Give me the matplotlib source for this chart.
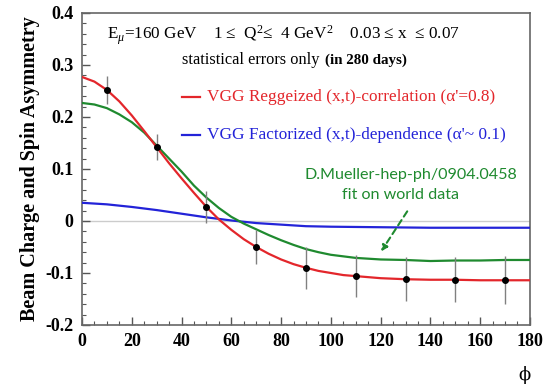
import matplotlib
matplotlib.use("Agg")
import matplotlib.pyplot as plt
from matplotlib.ticker import MultipleLocator, FixedLocator, FixedFormatter

# measured points (statistical errors only)
phi_pts = [10, 30, 50, 70, 90, 110, 130, 150, 170]
asym_pts = [0.252, 0.142, 0.027, -0.050, -0.090, -0.106, -0.112, -0.113, -0.113]
asym_err = [0.027, 0.025, 0.030, 0.033, 0.040, 0.041, 0.042, 0.043, 0.046]

# VGG Reggeized (x,t)-correlation
phi_red = [0, 5, 10, 15, 20, 25, 30, 35, 40, 45, 50, 55, 60, 65, 70, 75, 80,
           85, 90, 95, 100, 105, 110, 120, 130, 140, 150, 160, 170, 180]
asym_red = [0.277, 0.268, 0.252, 0.230, 0.203, 0.173, 0.142, 0.111, 0.082,
            0.054, 0.027, 0.003, -0.017, -0.035, -0.050, -0.063, -0.074,
            -0.083, -0.090, -0.096, -0.100, -0.104, -0.106, -0.110, -0.112,
            -0.113, -0.113, -0.114, -0.114, -0.114]

# D.Mueller fit on world data
phi_green = [0, 5, 10, 15, 20, 25, 30, 35, 40, 45, 50, 55, 60, 65, 70, 75, 80,
             85, 90, 95, 100, 110, 120, 130, 140, 150, 160, 170, 180]
asym_green = [0.227, 0.224, 0.217, 0.205, 0.190, 0.170, 0.145, 0.120, 0.095,
              0.068, 0.045, 0.025, 0.008, -0.005, -0.016, -0.027, -0.037,
              -0.046, -0.054, -0.060, -0.065, -0.071, -0.074, -0.075, -0.077,
              -0.076, -0.076, -0.075, -0.075]

# VGG Factorized (x,t)-dependence
phi_blue = [0, 10, 20, 30, 40, 50, 60, 70, 80, 90, 100, 120, 140, 160, 180]
asym_blue = [0.035, 0.032, 0.027, 0.021, 0.014, 0.007, 0.001, -0.004, -0.007,
             -0.010, -0.011, -0.012, -0.013, -0.013, -0.013]

x_ticks = [0, 20, 40, 60, 80, 100, 120, 140, 160, 180]
y_ticks = [-0.2, -0.1, 0.0, 0.1, 0.2, 0.3, 0.4]
y_tick_labels = ["-0.2", "-0.1", "0", "0.1", "0.2", "0.3", "0.4"]

RED = "#e3262b"
GREEN = "#1f8a2f"
BLUE = "#2323d8"
SERIF = "Liberation Serif"

plt.rcParams.update({
    "font.family": [SERIF, "DejaVu Serif"],
    "mathtext.fontset": "custom",
    "mathtext.rm": SERIF,
    "mathtext.it": SERIF + ":italic",
    "mathtext.bf": SERIF + ":bold",
})

fig = plt.figure(figsize=(5.59, 3.90), dpi=100)
ax = fig.add_axes([0.1467, 0.1667, 0.8013, 0.80])

ax.axhline(0, color="#cccccc", lw=1.0, zorder=1)
ax.plot(phi_blue, asym_blue, color=BLUE, lw=1.6, zorder=3)
ax.plot(phi_green, asym_green, color=GREEN, lw=1.6, zorder=3)
ax.plot(phi_red, asym_red, color=RED, lw=1.6, zorder=4)
ax.errorbar(phi_pts, asym_pts, yerr=asym_err, fmt="o", color="black",
            ms=4, ecolor="#808080", elinewidth=1.0, capsize=0, zorder=5)

ax.set_xlim(0, 180)
ax.set_ylim(-0.2, 0.4)
ax.xaxis.set_major_locator(FixedLocator(x_ticks))
ax.xaxis.set_minor_locator(MultipleLocator(5))
ax.yaxis.set_major_locator(FixedLocator(y_ticks))
ax.yaxis.set_major_formatter(FixedFormatter(y_tick_labels))
ax.yaxis.set_minor_locator(MultipleLocator(0.02))
ax.tick_params(which="both", direction="in", top=False, right=False,
               color="#555555", labelsize=13)
ax.tick_params(which="major", length=6, width=1.0, pad=6)
ax.tick_params(which="minor", length=3, width=0.8)
for lab in ax.get_xticklabels() + ax.get_yticklabels():
    lab.set_fontweight("bold")
for sp in ax.spines.values():
    sp.set_color("#666666")
    sp.set_linewidth(1.2)

ax.set_ylabel("Beam Charge and Spin Asymmetry", fontsize=14.5,
              fontweight="bold", labelpad=4)
fig.text(0.939, 0.038, "ϕ", fontsize=13, ha="center", va="center",
         family=["DejaVu Serif"])

ax.text(10, 0.358,
        r"E$_{\mu}$=160 GeV    1 ≤  Q$^2$≤  4 GeV$^2$    0.03 ≤ x  ≤ 0.07",
        fontsize=12.3, va="center", ha="left")
ax.text(40, 0.31, "statistical errors only", fontsize=11.8,
        va="center", ha="left")
ax.text(97.6, 0.31, "(in 280 days)", fontsize=10.8, fontweight="bold",
        va="center", ha="left")

ax.plot([40, 47.4], [0.238, 0.238], color=RED, lw=1.6)
ax.text(50.2, 0.238, "VGG Reggeized (x,t)-correlation (α'=0.8)", color=RED,
        fontsize=12.4, va="center", ha="left")
ax.plot([40, 47.4], [0.165, 0.165], color=BLUE, lw=1.6)
ax.text(50.2, 0.165, "VGG Factorized (x,t)-dependence (α'~ 0.1)",
        color=BLUE, fontsize=12.4, va="center", ha="left")

ax.text(132.2, 0.088, "D.Mueller-hep-ph/0904.0458", color=GREEN,
        fontsize=11.6, family="Lato", va="center", ha="center")
ax.text(127.8, 0.05, "fit on world data", color=GREEN, fontsize=11.6,
        family="Lato", va="center", ha="center")
ax.annotate("", xy=(119.6, -0.063), xytext=(131.3, 0.023),
            arrowprops=dict(arrowstyle="-|>", color=GREEN, lw=1.5,
                            linestyle=(0, (3, 2)), mutation_scale=9))

fig.savefig("out.png", dpi=100, facecolor="white")
